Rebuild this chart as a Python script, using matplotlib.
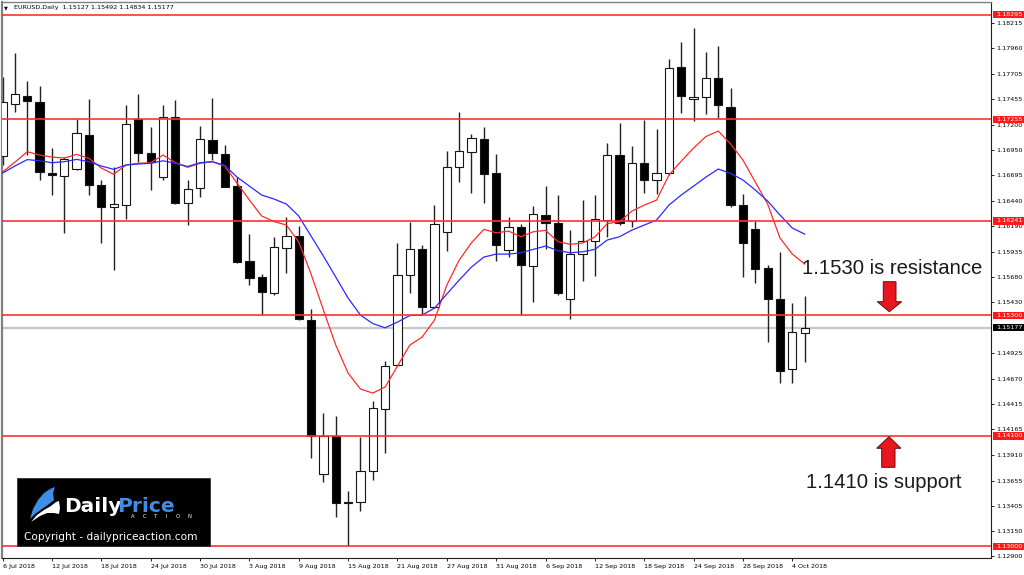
import matplotlib
matplotlib.use("Agg")
import matplotlib.pyplot as plt
from matplotlib.patches import Polygon, Rectangle
from matplotlib.transforms import blended_transform_factory

# ---------------- data ----------------
opens = [1.16887, 1.17402, 1.17488, 1.17428, 1.16721, 1.16688, 1.16755, 1.17096, 1.16598, 1.16379,
         1.16402, 1.17256, 1.16914, 1.16681, 1.17279, 1.16419, 1.16566, 1.17047, 1.16907, 1.16591,
         1.15844, 1.15685, 1.15526, 1.15974, 1.16093, 1.15254, 1.13717, 1.14098, 1.13441, 1.13438,
         1.13753, 1.14367, 1.14806, 1.15702, 1.15958, 1.15380, 1.16133, 1.16775, 1.16930, 1.17057,
         1.16715, 1.15951, 1.16183, 1.15795, 1.16300, 1.16223, 1.15463, 1.15911, 1.16044, 1.16250,
         1.16897, 1.16243, 1.16821, 1.16648, 1.16715, 1.17771, 1.17452, 1.17472, 1.17661, 1.17372,
         1.16399, 1.16160, 1.15769, 1.15460, 1.14763, 1.15127]
highs = [1.17677, 1.17910, 1.17634, 1.17587, 1.16964, 1.16880, 1.17256, 1.17452, 1.16648, 1.16781,
         1.17392, 1.17505, 1.17173, 1.17392, 1.17445, 1.16648, 1.17189, 1.17468, 1.16997, 1.16675,
         1.16107, 1.15712, 1.16084, 1.16283, 1.16190, 1.15360, 1.14325, 1.14298, 1.13551, 1.14092,
         1.14450, 1.14848, 1.16018, 1.16233, 1.16001, 1.16399, 1.16937, 1.17329, 1.17106, 1.17179,
         1.16904, 1.16283, 1.16210, 1.16389, 1.16588, 1.16499, 1.16150, 1.16449, 1.16499, 1.17014,
         1.17219, 1.16987, 1.17246, 1.17153, 1.17850, 1.18026, 1.18159, 1.17926, 1.17983, 1.17568,
         1.16509, 1.16243, 1.15802, 1.15934, 1.15420, 1.15492]
lows = [1.16798, 1.17323, 1.16897, 1.16648, 1.16499, 1.16123, 1.16748, 1.16499, 1.16018, 1.15752,
        1.16260, 1.16831, 1.16549, 1.16648, 1.16409, 1.16200, 1.16482, 1.16847, 1.16576, 1.15819,
        1.15602, 1.15304, 1.15503, 1.15725, 1.15254, 1.13876, 1.13643, 1.13295, 1.13003, 1.13351,
        1.13660, 1.13932, 1.14796, 1.15526, 1.15304, 1.15370, 1.15944, 1.16631, 1.16516, 1.16422,
        1.15844, 1.15884, 1.15304, 1.15430, 1.15961, 1.15503, 1.15261, 1.15645, 1.15695, 1.16084,
        1.16200, 1.16183, 1.16522, 1.16506, 1.16698, 1.17319, 1.17239, 1.17303, 1.17263, 1.16382,
        1.15685, 1.15625, 1.15038, 1.14629, 1.14623, 1.14834]
closes = [1.17428, 1.17502, 1.17438, 1.16725, 1.16701, 1.16857, 1.17113, 1.16598, 1.16379, 1.16406,
          1.17206, 1.16914, 1.16831, 1.17279, 1.16416, 1.16559, 1.17054, 1.16914, 1.16582, 1.15829,
          1.15675, 1.15530, 1.15984, 1.16093, 1.15261, 1.14101, 1.14098, 1.13434, 1.13434, 1.13753,
          1.14374, 1.14799, 1.15702, 1.15958, 1.15386, 1.16210, 1.16775, 1.16940, 1.17064, 1.16705,
          1.16001, 1.16183, 1.15802, 1.16307, 1.16223, 1.15520, 1.15911, 1.16044, 1.16257, 1.16897,
          1.16217, 1.16821, 1.16648, 1.16721, 1.17761, 1.17485, 1.17472, 1.17661, 1.17395, 1.16399,
          1.16024, 1.15762, 1.15460, 1.14749, 1.15131, 1.15177]
ma_fast = [1.16728, 1.16827, 1.16930, 1.16897, 1.16877, 1.16867, 1.16904, 1.16864, 1.16768, 1.16705,
           1.16798, 1.16815, 1.16821, 1.16897, 1.16821, 1.16775, 1.16815, 1.16831, 1.16788, 1.16618,
           1.16449, 1.16290, 1.16235, 1.16200, 1.16031, 1.15712, 1.15353, 1.15005, 1.14726, 1.14567,
           1.14527, 1.14587, 1.14796, 1.15005, 1.15085, 1.15254, 1.15602, 1.15851, 1.16024, 1.16157,
           1.16123, 1.16140, 1.16084, 1.16133, 1.16147, 1.16036, 1.16008, 1.16021, 1.16081, 1.16215,
           1.16233, 1.16339, 1.16399, 1.16449, 1.16698, 1.16837, 1.16967, 1.17082, 1.17136, 1.17007,
           1.16847, 1.16628, 1.16409, 1.16071, 1.15911, 1.15812]
ma_slow = [1.16718, 1.16788, 1.16852, 1.16840, 1.16821, 1.16831, 1.16854, 1.16831, 1.16788, 1.16755,
           1.16798, 1.16808, 1.16815, 1.16840, 1.16815, 1.16783, 1.16821, 1.16831, 1.16793, 1.16678,
           1.16588, 1.16499, 1.16459, 1.16409, 1.16290, 1.16090, 1.15891, 1.15682, 1.15473, 1.15304,
           1.15219, 1.15177, 1.15234, 1.15299, 1.15304, 1.15373, 1.15513, 1.15652, 1.15782, 1.15881,
           1.15911, 1.15911, 1.15924, 1.15958, 1.15991, 1.15946, 1.15924, 1.15934, 1.15958, 1.16051,
           1.16084, 1.16150, 1.16200, 1.16250, 1.16399, 1.16499, 1.16588, 1.16678, 1.16758, 1.16715,
           1.16648, 1.16549, 1.16439, 1.16300, 1.16170, 1.16110]
date_labels = ["6 Jul 2018", "12 Jul 2018", "18 Jul 2018", "24 Jul 2018", "30 Jul 2018",
               "3 Aug 2018", "9 Aug 2018", "15 Aug 2018", "21 Aug 2018", "27 Aug 2018",
               "31 Aug 2018", "6 Sep 2018", "12 Sep 2018", "18 Sep 2018", "24 Sep 2018",
               "28 Sep 2018", "4 Oct 2018"]
level_prices = [1.18295, 1.17255, 1.16241, 1.15300, 1.14100, 1.13000]
last_price = 1.15177
price_ticks = [1.18215, 1.17960, 1.17705, 1.17455, 1.17200, 1.16950, 1.16695, 1.16440,
               1.16190, 1.15935, 1.15680, 1.15430, 1.14925, 1.14670, 1.14415, 1.14165,
               1.13910, 1.13655, 1.13405, 1.13150, 1.12900]
title_text = "EURUSD,Daily  1.15127 1.15492 1.14834 1.15177"
resistance_text = "1.1530 is resistance"
support_text = "1.1410 is support"

# ---------------- figure ----------------
W, H = 1024, 575
fig = plt.figure(figsize=(W / 100, H / 100), dpi=100)
fig.patch.set_facecolor("white")


def P(x, y):
    return (x / W, 1 - y / H)


L, R, T, B = 2.3, 990.5, 2.0, 558.3
ax = fig.add_axes([L / W, 1 - B / H, (R - L) / W, (B - T) / H])
ax.set_facecolor("white")
ax.set_xlim(-0.024, 80.06)
ax.set_ylim(1.128819, 1.184211)

n = len(opens)
xs = list(range(n))
ax.vlines(xs, lows, highs, color="#202020", lw=1.0, zorder=2)
bottoms = [min(o, c) for o, c in zip(opens, closes)]
heights = [abs(c - o) for o, c in zip(opens, closes)]
faces = ["white" if c >= o else "black" for o, c in zip(opens, closes)]
ax.bar(xs, heights, bottom=bottoms, width=0.67, color=faces, edgecolor="#151515",
       linewidth=0.8, zorder=3)

ax.axhline(last_price, color="#c8c8c8", lw=1.6, zorder=1)
ax.plot(xs, ma_fast, color="#ff2a2a", lw=0.9, zorder=4)
ax.plot(xs, ma_slow, color="#2a2aff", lw=0.9, zorder=4)
for p in level_prices:
    ax.axhline(p, color="#ff3030", lw=1.2, zorder=5)

# spines
ax.spines["left"].set_color("#808080")
ax.spines["left"].set_linewidth(1.6)
ax.spines["top"].set_color("#808080")
ax.spines["top"].set_linewidth(1.0)
ax.spines["right"].set_color("#202020")
ax.spines["right"].set_linewidth(0.8)
ax.spines["bottom"].set_color("#202020")
ax.spines["bottom"].set_linewidth(0.8)

# y axis on the right
ax.yaxis.tick_right()
ax.set_yticks(price_ticks)
ax.set_yticklabels([f"{v:.5f}" for v in price_ticks])
ax.tick_params(axis="y", direction="out", length=2.2, width=0.6, pad=1.6,
               labelsize=4.6, colors="#000000")

# x axis
ax.set_xticks(list(range(0, 4 * len(date_labels), 4)))
ax.set_xticklabels(date_labels)
ax.tick_params(axis="x", direction="out", length=2.2, width=0.6, pad=1.6,
               labelsize=4.6, colors="#000000")
for lbl in ax.get_xticklabels():
    lbl.set_ha("left")

# price labels on the axis
bt = blended_transform_factory(ax.transAxes, ax.transData)
box_x0 = (993.3 - L) / (R - L)
box_w = (1024 - 993.3) / (R - L)
txt_x = (996.0 - L) / (R - L)
box_h = 7.2 / 10043.0
for p in level_prices:
    ax.add_patch(Rectangle((box_x0, p - box_h / 2), box_w, box_h, transform=bt,
                           facecolor="#ff1a1a", edgecolor="none", clip_on=False, zorder=10))
    ax.text(txt_x, p, f"{p:.5f}", transform=bt, color="white", fontsize=4.6,
            va="center", ha="left", clip_on=False, zorder=11)
ax.add_patch(Rectangle((box_x0, last_price - box_h / 2), box_w, box_h, transform=bt,
                       facecolor="#000000", edgecolor="none", clip_on=False, zorder=10))
ax.text(txt_x, last_price, f"{last_price:.5f}", transform=bt, color="white", fontsize=4.6,
        va="center", ha="left", clip_on=False, zorder=11)

# title
fig.text(*P(4.3, 7.8), "\u25BC", fontsize=3.6, color="#000000", va="center", ha="left")
fig.text(*P(13.5, 7.8), title_text, fontsize=4.6, color="#000000", va="center", ha="left")

# annotations
fig.text(*P(801.7, 273.5), resistance_text, fontsize=14.6, family="Liberation Sans",
         color="#1a1a1a", va="baseline", ha="left")
fig.text(*P(806.0, 488.0), support_text, fontsize=14.6, family="Liberation Sans",
         color="#1a1a1a", va="baseline", ha="left")

down_arrow = [(883.3, 281.7), (896.0, 281.7), (896.0, 301.7), (901.7, 301.7),
              (889.3, 311.7), (877.3, 301.7), (883.3, 301.7)]
up_arrow = [(889.0, 436.7), (900.9, 448.3), (895.0, 448.3), (895.0, 467.3),
            (881.7, 467.3), (881.7, 448.3), (876.7, 448.3)]
for pts in (down_arrow, up_arrow):
    fig.add_artist(Polygon([P(x, y) for x, y in pts], closed=True, transform=fig.transFigure,
                           facecolor="#e8161e", edgecolor="#6a0a0a", lw=0.7, zorder=20))

# logo
fig.add_artist(Rectangle(P(16.7, 546.0), 193.3 / W, 68.3 / H, transform=fig.transFigure,
                         facecolor="black", edgecolor="#303030", lw=0.6, zorder=20))
blue_leaf = [(30, 519), (33, 509), (38, 500), (44, 493), (50, 489), (55, 487), (53, 493),
             (54, 500), (49, 504), (42, 509), (35, 514)]
white_wave = [(31, 522), (37, 515), (44, 510), (51, 506), (56, 502), (59, 501), (60, 508),
              (59, 514), (54, 513), (47, 513), (40, 516), (34, 520)]
fig.add_artist(Polygon([P(x, y) for x, y in blue_leaf], closed=True, transform=fig.transFigure,
                       facecolor="#3d8ee6", edgecolor="none", zorder=21))
fig.add_artist(Polygon([P(x, y) for x, y in white_wave], closed=True, transform=fig.transFigure,
                       facecolor="white", edgecolor="none", zorder=21))
fig.text(*P(64, 511.5), "Daily", fontsize=14.5, fontweight="bold", color="white",
         va="baseline", ha="left", zorder=22)
fig.text(*P(117, 511.5), "Price", fontsize=14.5, fontweight="bold", color="#3d8ee6",
         va="baseline", ha="left", zorder=22)
for k, ch in enumerate("ACTION"):
    fig.text(*P(133 + k * 11.2, 517.0), ch, fontsize=3.8, color="white",
             va="center", ha="center", zorder=22)
fig.text(*P(24, 536.7), "Copyright - dailypriceaction.com", fontsize=7.6, color="white",
         va="center", ha="left", zorder=22)

fig.savefig("out.png", dpi=100, facecolor="white")
